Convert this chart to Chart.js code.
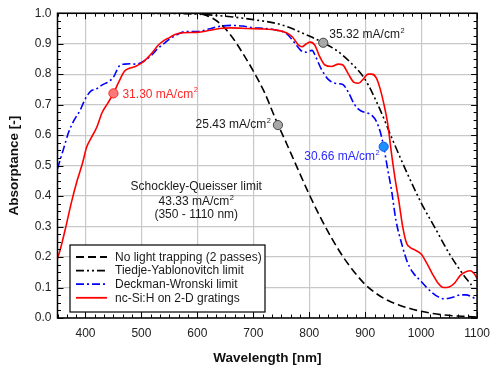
<!DOCTYPE html>
<html><head><meta charset="utf-8">
<script src="https://cdn.jsdelivr.net/npm/chart.js@4.4.1/dist/chart.umd.min.js"></script>
<style>html,body{margin:0;padding:0;background:#fff;}</style>
</head><body>
<canvas id="c" width="498" height="371"></canvas>
<script>
// ---- data ----
const xTickLabels = [400,500,600,700,800,900,1000,1100];
const yTickLabels = [0.0,0.1,0.2,0.3,0.4,0.5,0.6,0.7,0.8,0.9,1.0];

const wlNoTrap  = [350,400,450,500,550,600,620,640,660,680,700,720,740,760,780,800,820,840,860,880,900,920,940,960,980,1000,1020,1040,1060,1080,1100];
const absNoTrap = [1.0,1.0,1.0,1.0,1.0,0.999,0.99,0.967,0.927,0.872,0.81,0.74,0.652,0.57,0.487,0.405,0.33,0.262,0.202,0.152,0.11,0.08,0.058,0.043,0.031,0.022,0.015,0.01,0.007,0.005,0.003];

const wlTY  = [350,450,550,600,650,700,750,800,825,850,875,900,925,950,975,1000,1025,1050,1075,1090];
const absTY = [1.0,1.0,0.999,0.997,0.99,0.979,0.962,0.925,0.903,0.876,0.836,0.782,0.69,0.58,0.475,0.378,0.295,0.212,0.143,0.108];

const wlDW  = [350,360,370,380,390,400,410,420,430,440,450,460,470,480,490,500,510,520,530,540,550,560,570,580,590,600,620,640,660,680,700,720,740,760,775,787,795,805,812,822,834,846,860,870,881,892,903,912,920,927,933,940,947,955,965,975,985,1000,1010,1020,1030,1040,1050,1060,1070,1080,1090,1100];
const absDW = [0.49,0.55,0.61,0.65,0.68,0.72,0.745,0.752,0.765,0.774,0.79,0.826,0.833,0.834,0.833,0.838,0.85,0.866,0.885,0.9,0.915,0.926,0.935,0.94,0.94,0.94,0.948,0.957,0.96,0.958,0.952,0.95,0.945,0.932,0.9,0.875,0.872,0.878,0.855,0.815,0.783,0.77,0.766,0.74,0.7,0.68,0.673,0.665,0.645,0.61,0.562,0.49,0.42,0.32,0.245,0.185,0.15,0.12,0.1,0.083,0.07,0.063,0.065,0.07,0.076,0.076,0.07,0.06];

const wlSi  = [350,355,365,375,385,395,402,410,420,430,440,450,460,470,480,490,500,510,520,530,540,550,560,575,600,620,640,660,690,720,740,760,770,780,787,795,802,810,818,828,840,852,860,870,880,888,897,905,912,920,927,933,940,947,954,960,967,974,980,990,1000,1010,1020,1030,1040,1050,1060,1070,1080,1088,1095,1100];
const absSi = [0.195,0.225,0.3,0.38,0.45,0.51,0.56,0.59,0.625,0.675,0.705,0.737,0.776,0.81,0.82,0.826,0.836,0.852,0.872,0.895,0.91,0.92,0.93,0.936,0.937,0.943,0.95,0.952,0.95,0.948,0.945,0.935,0.922,0.897,0.89,0.9,0.905,0.895,0.86,0.83,0.825,0.833,0.83,0.8,0.773,0.77,0.785,0.8,0.8,0.787,0.75,0.705,0.64,0.54,0.45,0.385,0.3,0.245,0.232,0.222,0.21,0.18,0.145,0.115,0.1,0.102,0.115,0.14,0.152,0.155,0.145,0.13];

const markerWl   = [450, 744, 825, 933];
const markerAbs  = [0.737, 0.633, 0.903, 0.562];
const markerText = ["31.30 mA/cm", "25.43 mA/cm", "35.32 mA/cm", "30.66 mA/cm"];
const sqText = ["Schockley-Queisser limit", "43.33 mA/cm", "(350 - 1110 nm)"];
const legendLabels = ["No light trapping (2 passes)","Tiedje-Yablonovitch limit","Deckman-Wronski limit","nc-Si:H on 2-D gratings"];

// ---- build ----
const pts = (xs, ys) => xs.map((x,i)=>({x:x, y:ys[i]}));
const FONT = "'Liberation Sans', Arial, Helvetica, sans-serif";

const lineBase = {pointRadius:0, borderWidth:1.6, fill:false, cubicInterpolationMode:'monotone', showLine:true};
const datasets = [
  Object.assign({label:legendLabels[0], order:4, data:pts(wlNoTrap,absNoTrap), borderColor:'#000', borderDash:[8,4]}, lineBase),
  Object.assign({label:legendLabels[1], order:3, data:pts(wlTY,absTY), borderColor:'#000', borderDash:[8,3,2,3,2,3]}, lineBase),
  Object.assign({label:legendLabels[2], order:2, data:pts(wlDW,absDW), borderColor:'#0000ff', borderDash:[8,3,2,3]}, lineBase),
  Object.assign({label:legendLabels[3], order:1, data:pts(wlSi,absSi), borderColor:'#ff0000'}, lineBase),
];
const mFill = ['#ff7878','#a8a8a8','#a8a8a8','#1e8fff'];
const mBorder = ['#ff2020','#444','#444','#1060e0'];
markerWl.forEach((w,i)=>{
  datasets.push({label:'m'+i, type:'scatter', order:0, data:[{x:w,y:markerAbs[i]}], pointRadius:4.6, pointBackgroundColor:mFill[i], pointBorderColor:mBorder[i], pointBorderWidth:1, showLine:false});
});

function supText(ctx, main, sup, x, y, align, size, color){
  ctx.save();
  ctx.fillStyle = color;
  ctx.textBaseline = 'middle';
  ctx.font = size + 'px ' + FONT;
  const w1 = ctx.measureText(main).width;
  ctx.font = (size*0.62) + 'px ' + FONT;
  const w2 = ctx.measureText(sup).width;
  const tot = w1 + w2 + 0.5;
  let x0 = align === 'right' ? x - tot : align === 'center' ? x - tot/2 : x;
  ctx.textAlign = 'left';
  ctx.font = size + 'px ' + FONT;
  ctx.fillText(main, x0, y);
  ctx.font = (size*0.62) + 'px ' + FONT;
  ctx.fillText(sup, x0 + w1 + 0.5, y - size*0.35);
  ctx.restore();
}

const decor = {
  id:'decor',
  afterDatasetsDraw(chart){
    const ctx = chart.ctx, a = chart.chartArea;
    const xs = chart.scales.x, ys = chart.scales.y;
    ctx.save();
    ctx.strokeStyle = '#000'; ctx.lineWidth = 1.5;
    ctx.strokeRect(a.left, a.top, a.right-a.left, a.bottom-a.top);
    ctx.lineWidth = 1;
    ctx.beginPath();
    for (let k=0; k<=45; k++){
      const v = 350 + k*100/6;
      if (v > 1100.01) break;
      const px = Math.round(xs.getPixelForValue(v))+0.5;
      const major = Math.abs(v/100 - Math.round(v/100)) < 1e-6;
      const L = major ? 6 : 3.5;
      ctx.moveTo(px, a.bottom); ctx.lineTo(px, a.bottom-L);
      ctx.moveTo(px, a.top); ctx.lineTo(px, a.top+L);
    }
    for (let k=0; k<=40; k++){
      const v = k*0.025;
      const py = Math.round(ys.getPixelForValue(v))+0.5;
      const major = k % 4 === 0;
      const L = major ? 6 : 3.5;
      ctx.moveTo(a.left, py); ctx.lineTo(a.left+L, py);
      ctx.moveTo(a.right, py); ctx.lineTo(a.right-L, py);
    }
    ctx.stroke();
    ctx.restore();

    const mp = markerWl.map((w,i)=>[xs.getPixelForValue(w), ys.getPixelForValue(markerAbs[i])]);
    supText(ctx, markerText[0], '2', mp[0][0]+9, mp[0][1]+1, 'left', 12, '#ff2828');
    supText(ctx, markerText[1], '2', mp[1][0]-7, mp[1][1], 'right', 12, '#1a1a1a');
    supText(ctx, markerText[2], '2', mp[2][0]+6, mp[2][1]-8, 'left', 12, '#1a1a1a');
    supText(ctx, markerText[3], '2', mp[3][0]-4, mp[3][1]+10, 'right', 12, '#2a2aff');

    const cx = xs.getPixelForValue(598);
    ctx.save();
    ctx.fillStyle = '#1a1a1a'; ctx.font = '12px ' + FONT; ctx.textAlign='center'; ctx.textBaseline='middle';
    ctx.fillText(sqText[0], cx, ys.getPixelForValue(0.43));
    ctx.fillText(sqText[2], cx, ys.getPixelForValue(0.34));
    ctx.restore();
    supText(ctx, sqText[1], '2', cx, ys.getPixelForValue(0.381), 'center', 12, '#1a1a1a');

    const bx = a.left + 12.5, bw = 195, bh = 67, by = a.bottom - 6 - bh;
    ctx.save();
    ctx.fillStyle = '#fff';
    ctx.fillRect(bx, by, bw, bh);
    ctx.strokeStyle = '#000'; ctx.lineWidth = 1.2;
    ctx.strokeRect(bx, by, bw, bh);
    for (let i=0;i<4;i++){
      const ds = chart.data.datasets[i];
      const ry = by + 12 + i*13.6;
      ctx.beginPath();
      ctx.strokeStyle = ds.borderColor; ctx.lineWidth = 1.8;
      ctx.setLineDash(ds.borderDash || []);
      ctx.moveTo(bx+6, ry); ctx.lineTo(bx+37, ry);
      ctx.stroke();
      ctx.setLineDash([]);
      ctx.fillStyle = '#1a1a1a'; ctx.font = '12px ' + FONT; ctx.textAlign='left'; ctx.textBaseline='middle';
      ctx.fillText(ds.label, bx+45, ry+0.5);
    }
    ctx.restore();
  }
};

new Chart(document.getElementById('c'), {
  type:'line',
  data:{datasets:datasets},
  options:{
    responsive:false, animation:false, devicePixelRatio:1,
    layout:{padding:{top:11, right:13, left:0, bottom:0}},
    plugins:{legend:{display:false}, tooltip:{enabled:false}},
    scales:{
      x:{type:'linear', min:350, max:1100,
        afterBuildTicks(s){ s.ticks = xTickLabels.map(v=>({value:v})); },
        afterFit(s){ s.height = 53; },
        grid:{color:'#c8c8c8', lineWidth:1.2, drawTicks:false},
        border:{display:false},
        ticks:{padding:8, color:'#222', font:{family:FONT, size:12}, maxRotation:0, callback:v=>String(v)},
        title:{display:true, text:'Wavelength [nm]', color:'#111', font:{family:FONT, size:13.5, weight:'bold'}, padding:{top:0,bottom:5}}
      },
      y:{type:'linear', min:0, max:1,
        afterBuildTicks(s){ s.ticks = yTickLabels.map(v=>({value:v})); },
        afterFit(s){ s.width = 57.5; },
        grid:{color:'#c8c8c8', lineWidth:1.2, drawTicks:false},
        border:{display:false},
        ticks:{padding:6, color:'#222', font:{family:FONT, size:12}, callback:v=>Number(v).toFixed(1)},
        title:{display:true, text:'Absorptance [-]', color:'#111', font:{family:FONT, size:13.5, weight:'bold'}, padding:{top:6,bottom:0}}
      }
    }
  },
  plugins:[decor]
});
</script>
</body></html>
